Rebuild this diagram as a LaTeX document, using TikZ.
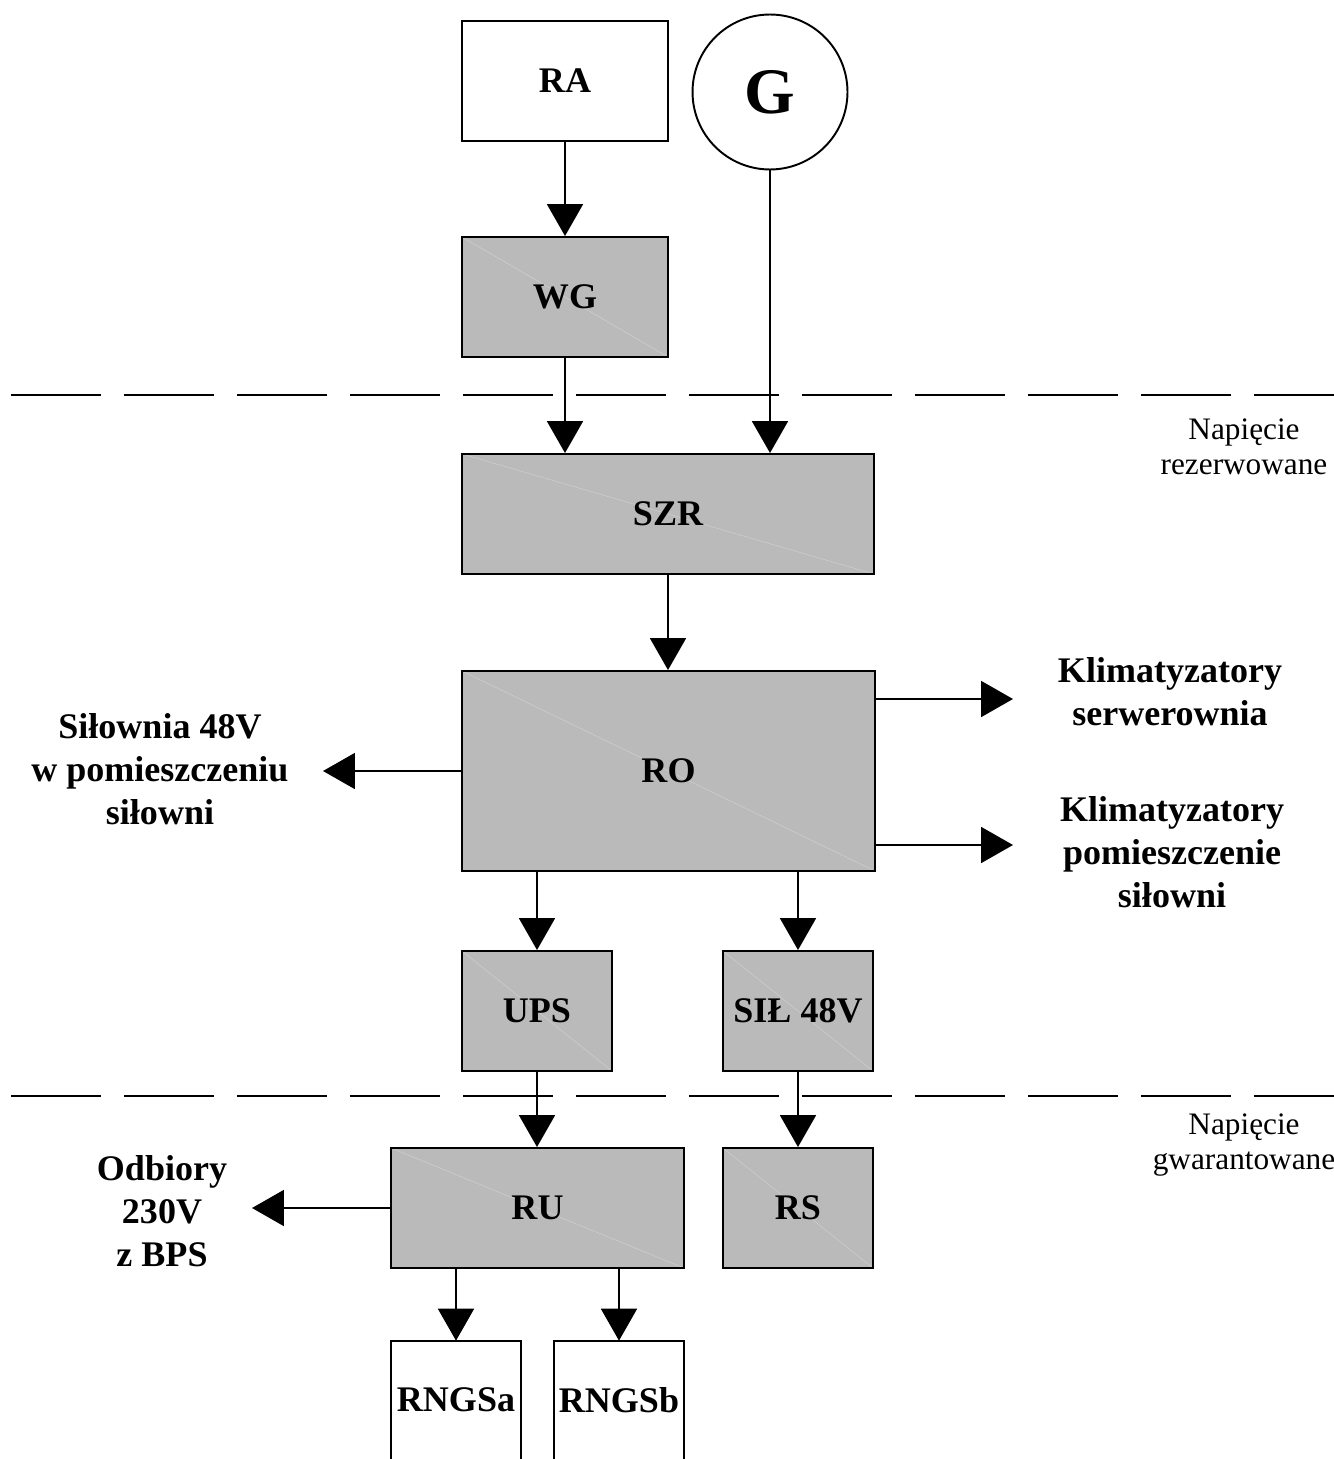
\documentclass[tikz,border=0pt]{standalone}
\usepackage{fontspec}
\setmainfont{Liberation Serif}
\usepackage{xcolor}
\usepackage{tikz}
\usetikzlibrary{arrows.meta}
\definecolor{ink}{HTML}{000000}
\definecolor{boxgray}{HTML}{BABABA}
\definecolor{diaggray}{HTML}{D2D2D2}
\tikzset{
  blk/.style={draw=ink, line width=1.1pt, rectangle, inner sep=0pt,
    font=\bfseries\fontsize{20.5}{24}\selectfont},
  gblk/.style={blk, fill=boxgray, path picture={\draw[diaggray, line width=0.25pt]
    (path picture bounding box.north west) -- (path picture bounding box.south east);}},
  openblk/.style={rectangle, inner sep=0pt, font=\bfseries\fontsize{20.5}{24}\selectfont},
  flow/.style={draw=ink, line width=1.1pt, -{Triangle[length=6.4mm,width=7.2mm]}},
  sep/.style={draw=ink, line width=1.1pt, dash pattern=on 1.8cm off 0.46cm},
  lab/.style={font=\bfseries\fontsize{20.5}{24.5}\selectfont, align=center},
  note/.style={font=\fontsize{17.8}{20}\selectfont, align=center},
}

\begin{document}
\begin{tikzpicture}[x=0.02cm, y=-0.02cm]
  \useasboundingbox (0,0) rectangle (1334,1459);
  \node[blk, minimum width=4.12cm, minimum height=2.4cm] (RA) at (565,81) {RA};
  \node[blk, circle, minimum size=3.1cm, font=\bfseries\fontsize{37}{40}\selectfont] (G) at (770,92) {G};
  \node[gblk, minimum width=4.12cm, minimum height=2.4cm] (WG) at (565,297) {WG};
  \node[gblk, minimum width=8.24cm, minimum height=2.4cm] (SZR) at (668,514) {SZR};
  \node[gblk, minimum width=8.26cm, minimum height=4cm] (RO) at (668.5,771) {RO};
  \node[gblk, minimum width=3cm, minimum height=2.4cm] (UPS) at (537,1011) {UPS};
  \node[gblk, minimum width=3cm, minimum height=2.4cm] (SIL) at (798,1011) {SIŁ 48V};
  \node[gblk, minimum width=5.86cm, minimum height=2.4cm] (RU) at (537.5,1208) {RU};
  \node[gblk, minimum width=3cm, minimum height=2.4cm] (RS) at (798,1208) {RS};
  \node[openblk, minimum width=2.6cm, minimum height=2.36cm] (RNGSa) at (456,1400) {RNGSa};
  \node[openblk, minimum width=2.6cm, minimum height=2.36cm] (RNGSb) at (619,1400) {RNGSb};
  \draw[blk] (RNGSa.south west) -- (RNGSa.north west) -- (RNGSa.north east) -- (RNGSa.south east);
  \draw[blk] (RNGSb.south west) -- (RNGSb.north west) -- (RNGSb.north east) -- (RNGSb.south east);

  \draw[sep] (11,395) -- (1334,395);
  \draw[sep] (11,1096) -- (1334,1096);
  \node[note] (rez) at (1244,447) {Napięcie\\rezerwowane};
  \node[note] (gwar) at (1244,1145) {Napięcie\\gwarantowane};

  \node[lab] (klimS) at (1170,692) {Klimatyzatory\\serwerownia};
  \node[lab] (klimP) at (1172,852) {Klimatyzatory\\pomieszczenie\\siłowni};
  \node[lab] (silow) at (160,769) {Siłownia 48V\\w pomieszczeniu\\siłowni};
  \node[lab] (odb) at (162,1211) {Odbiory\\230V\\z BPS};
  \coordinate (kS) at (1013,699);
  \coordinate (kP) at (1013,845);
  \coordinate (sL) at (323,771);
  \coordinate (oL) at (252,1208);

  \draw[flow] (RA.south) -- (WG.north);
  \draw[flow] (WG.south) -- (WG.south |- SZR.north);
  \draw[flow] (G.south) -- (G.south |- SZR.north);
  \draw[flow] (SZR.south) -- (SZR.south |- RO.north);
  \draw[flow] (kS -| RO.east) -- (kS);
  \draw[flow] (kP -| RO.east) -- (kP);
  \draw[flow] (RO.west) -- (sL);
  \draw[flow] (UPS.north |- RO.south) -- (UPS.north);
  \draw[flow] (SIL.north |- RO.south) -- (SIL.north);
  \draw[flow] (UPS.south) -- (UPS.south |- RU.north);
  \draw[flow] (SIL.south) -- (RS.north);
  \draw[flow] (RU.west) -- (oL);
  \draw[flow] (RNGSa.north |- RU.south) -- (RNGSa.north);
  \draw[flow] (RNGSb.north |- RU.south) -- (RNGSb.north);
\end{tikzpicture}
\end{document}
